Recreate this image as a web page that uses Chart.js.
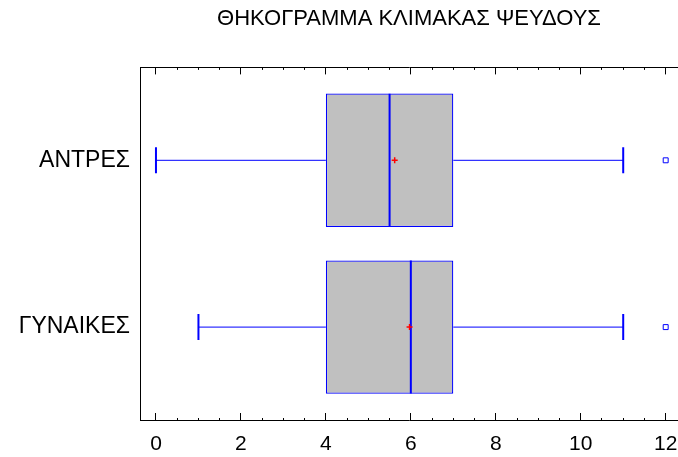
<!DOCTYPE html>
<html lang="el">
<head>
    <meta charset="UTF-8">
    <title>Θηκόγραμμα κλίμακας ψεύδους</title>
    <script src="https://cdn.jsdelivr.net/npm/chart.js@4.4.0/dist/chart.umd.min.js"></script>
    <style>
        body { margin: 0; background: #ffffff; }
        #chartContainer { width: 678px; height: 457px; }
    </style>
</head>
<body>
<div id="chartContainer">
    <canvas id="boxChart"></canvas>
</div>

<script>
    // values
    const groups = ['ΑΝΤΡΕΣ', 'ΓΥΝΑΙΚΕΣ'];
    const groupPos = [2, 1];
    const whiskerLow = [0, 1];
    const q1 = [4, 4];
    const medians = [5.5, 6];
    const q3 = [7, 7];
    const whiskerHigh = [11, 11];
    const means = [5.62, 5.97];
    const outliers = [[12], [12]];
    const xTickLabels = [0, 2, 4, 6, 8, 10, 12];

    const BLUE = '#0000ff';
    const FONT = "'Liberation Sans', Arial, sans-serif";
    const xMin = -0.376;
    const xMax = 12.29;

    const datasets = [];

    // mean markers
    datasets.push({
        type: 'scatter',
        data: means.map((m, i) => ({ x: m, y: groupPos[i] })),
        pointStyle: 'cross',
        pointRadius: 3,
        pointBorderWidth: 1.5,
        pointBorderColor: '#ff0000',
        order: 0
    });

    // outside points
    datasets.push({
        type: 'scatter',
        data: outliers.flatMap((list, i) => list.map(v => ({ x: v, y: groupPos[i] }))),
        pointStyle: 'rect',
        pointRadius: 3.5,
        pointBorderWidth: 1,
        pointBorderColor: BLUE,
        pointBackgroundColor: '#ffffff',
        order: 0
    });

    // median lines across the box
    datasets.push({
        type: 'scatter',
        data: medians.map((m, i) => ({ x: m, y: groupPos[i] })),
        pointStyle: 'line',
        rotation: 90,
        pointRadius: 66.5,
        pointBorderWidth: 2,
        pointBorderColor: BLUE,
        order: 1
    });

    // boxes q1 -> q3
    datasets.push({
        type: 'bar',
        indexAxis: 'y',
        data: groups.map((g, i) => ({ y: groupPos[i], x: [q1[i], q3[i]] })),
        backgroundColor: '#c0c0c0',
        borderColor: BLUE,
        borderWidth: 1.25,
        borderSkipped: false,
        barPercentage: 0.8,
        categoryPercentage: 1,
        order: 2
    });

    // whiskers with end caps
    groups.forEach((g, i) => {
        const whisker = {
            type: 'scatter',
            showLine: true,
            borderColor: BLUE,
            borderWidth: 1,
            pointStyle: 'line',
            rotation: 90,
            pointBorderColor: BLUE,
            pointBorderWidth: 2,
            order: 3
        };
        datasets.push({ ...whisker, data: [{ x: whiskerLow[i], y: groupPos[i] }, { x: q1[i], y: groupPos[i] }], pointRadius: [13, 0] });
        datasets.push({ ...whisker, data: [{ x: q3[i], y: groupPos[i] }, { x: whiskerHigh[i], y: groupPos[i] }], pointRadius: [0, 13] });
    });

    const isMajor = v => xTickLabels.includes(v);

    // keep the scale from reserving room for overhanging labels
    function noPadding(s) {
        s.paddingLeft = 0;
        s.paddingRight = 0;
        s.paddingTop = 0;
        s.paddingBottom = 0;
    }

    new Chart(document.getElementById('boxChart'), {
        type: 'scatter',
        data: { datasets: datasets },
        options: {
            responsive: true,
            maintainAspectRatio: false,
            animation: false,
            events: [],
            layout: { padding: 0, autoPadding: false },
            plugins: {
                legend: { display: false },
                tooltip: { enabled: false },
                title: {
                    display: true,
                    text: 'ΘΗΚΟΓΡΑΜΜΑ ΚΛΙΜΑΚΑΣ ΨΕΥΔΟΥΣ',
                    fullSize: false,
                    color: '#000000',
                    font: { family: FONT, size: 22, weight: 'normal' },
                    padding: { top: 6, bottom: 35 }
                }
            },
            scales: {
                x: {
                    type: 'linear',
                    position: 'bottom',
                    min: xMin,
                    max: xMax,
                    offset: false,
                    afterFit: s => { s.height = 37; noPadding(s); },
                    border: { display: true, color: '#000000', width: 1 },
                    grid: {
                        offset: false,
                        drawOnChartArea: false,
                        tickLength: -7,
                        tickColor: '#000000',
                        tickBorderDash: ctx => isMajor(ctx.tick.value) ? [] : [3, 100]
                    },
                    ticks: {
                        stepSize: 0.5,
                        includeBounds: false,
                        autoSkip: false,
                        maxRotation: 0,
                        padding: 19,
                        color: '#000000',
                        font: { family: FONT, size: 21 },
                        callback: v => isMajor(v) ? String(v) : ''
                    }
                },
                x2: {
                    type: 'linear',
                    position: 'top',
                    min: xMin,
                    max: xMax,
                    offset: false,
                    afterFit: s => { s.height = 0; noPadding(s); },
                    border: { display: true, color: '#000000', width: 1 },
                    grid: {
                        offset: false,
                        drawOnChartArea: false,
                        tickLength: -7,
                        tickColor: '#000000',
                        tickBorderDash: ctx => isMajor(ctx.tick.value) ? [] : [0, 4.5, 3, 100]
                    },
                    ticks: { display: false, stepSize: 0.5, includeBounds: false }
                },
                y: {
                    type: 'linear',
                    position: 'left',
                    min: 0.443,
                    max: 2.557,
                    offset: false,
                    afterFit: s => { s.width = 140; noPadding(s); },
                    afterBuildTicks: s => { s.ticks = groupPos.map(v => ({ value: v })); },
                    border: { display: true, color: '#000000', width: 1 },
                    grid: { offset: false, drawOnChartArea: false, drawTicks: false },
                    ticks: {
                        padding: 10,
                        color: '#000000',
                        font: { family: FONT, size: 23 },
                        callback: v => groups[groupPos.indexOf(v)] ?? ''
                    }
                }
            }
        }
    });
</script>
</body>
</html>
